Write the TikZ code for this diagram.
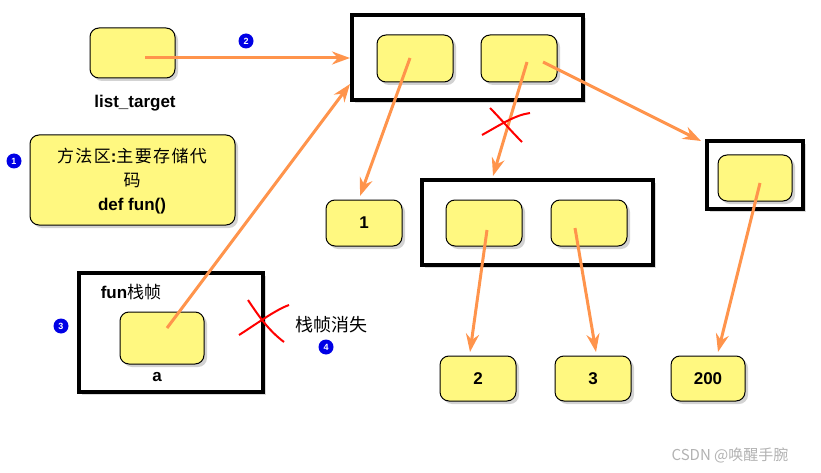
\documentclass[tikz,border=0pt]{standalone}
\usepackage{fontspec}
\setmainfont{Liberation Sans}
\newfontfamily\cjk[LetterSpace=8]{Noto Sans CJK SC}
\newfontfamily\cjkn{Noto Sans CJK SC}
\usetikzlibrary{arrows.meta,shadows}
\tikzset{
 cell/.style={draw=black,fill=yellow!50,rounded corners=9pt,line width=1pt,drop shadow={shadow xshift=3pt,shadow yshift=-3pt,opacity=0.35}},
 frame/.style={draw=black,line width=3.5pt,fill=white,drop shadow={shadow xshift=3pt,shadow yshift=-3pt,opacity=0.3}},
 ptr/.style={draw=orange!80!red!70!white,line width=3pt,-{Stealth[length=18pt,width=13pt]}},
 badge/.style={circle,fill=blue!90!black,text=white,inner sep=0pt,minimum size=15pt,font=\bfseries\fontsize{9}{9}\selectfont},
 lbl/.style={font=\bfseries\fontsize{17}{20}\selectfont},
 cross/.style={draw=red,line width=2pt}
}
\begin{document}
\begin{tikzpicture}[x=1pt,y=-1pt]
\useasboundingbox (0,0) rectangle (821,473);
% frames
\path[frame] (352,15) rectangle (583,100);
\path[frame] (422,180) rectangle (653,265);
\path[frame] (707,141) rectangle (803,209);
\path[frame] (79,273) rectangle (263,392);
% cells
\path[cell] (90,28) rectangle (175,78); \coordinate (lt) at (145,58);
\path[cell] (377,35) rectangle (453,82); \coordinate (l0) at (410,58);
\path[cell] (481,35) rectangle (557,82);
\coordinate (l1) at (527,62); \coordinate (l2) at (543,62);
\path[cell] (30,135) rectangle (235,225);
\path[cell] (120,312) rectangle (204,364); \coordinate (a) at (167,328);
\path[cell] (326,200) rectangle (402,246);
\path[cell] (446,200) rectangle (522,246); \coordinate (b0) at (487,230);
\path[cell] (551,200) rectangle (627,246); \coordinate (b1) at (575,228);
\path[cell] (718,155) rectangle (792,201); \coordinate (c0) at (760,183);
\path[cell] (440,356) rectangle (516,401);
\path[cell] (555,356) rectangle (631,401);
\path[cell] (671,356) rectangle (745,401);
% texts
\node[lbl] (tlt) at (135,103) {list\_target};
\node[font=\bfseries\fontsize{17}{24}\selectfont,align=center] (tm) at (132,181) {{\cjk\mdseries 方法区}:{\cjk\mdseries 主要存储代}\\{\cjk\mdseries 码}\\def fun()};
\node[lbl] (n1) at (364,223) {1};
\node[lbl] (n2) at (478,379) {2};
\node[lbl] (n3) at (593,379) {3};
\node[lbl] (n200) at (708,379) {200};
\node[lbl] (tfun) at (131,292) {fun{\cjkn\mdseries 栈帧}};
\node[lbl] (ta) at (157,377) {a};
\node[font=\cjkn\fontsize{18}{20}\selectfont] (tgone) at (331,325) {栈帧消失};
\node[font=\cjkn\fontsize{15}{18}\selectfont,text=gray!60] (wm) at (730,455) {CSDN @唤醒手腕};
\node[badge] (b1n) at (14,161) {1};
\node[badge] (b2n) at (246,41) {2};
\node[badge] (b3n) at (61,326) {3};
\node[badge] (b4n) at (326,347) {4};
% arrows
\coordinate (e1) at (350,58); \coordinate (e2) at (350,84);
\coordinate (e3) at (360,196); \coordinate (e4) at (493,176);
\coordinate (e5) at (701,141); \coordinate (e6) at (470,352);
\coordinate (e7) at (596,352); \coordinate (e8) at (718,352);
\draw[ptr] (lt) -- (e1);
\draw[ptr] (a) -- (e2);
\draw[ptr] (l0) -- (e3);
\draw[ptr] (l1) -- (e4);
\draw[ptr] (l2) -- (e5);
\draw[ptr] (b0) -- (e6);
\draw[ptr] (b1) -- (e7);
\draw[ptr] (c0) -- (e8);
% crosses
\draw[cross] (482,135) .. controls (500,125) and (515,115) .. (530,113);
\draw[cross] (490,108) .. controls (500,118) and (510,130) .. (522,142);
\draw[cross] (239,335) .. controls (255,325) and (275,310) .. (289,305);
\draw[cross] (248,300) .. controls (258,315) and (268,330) .. (284,342);
\end{tikzpicture}
\end{document}
